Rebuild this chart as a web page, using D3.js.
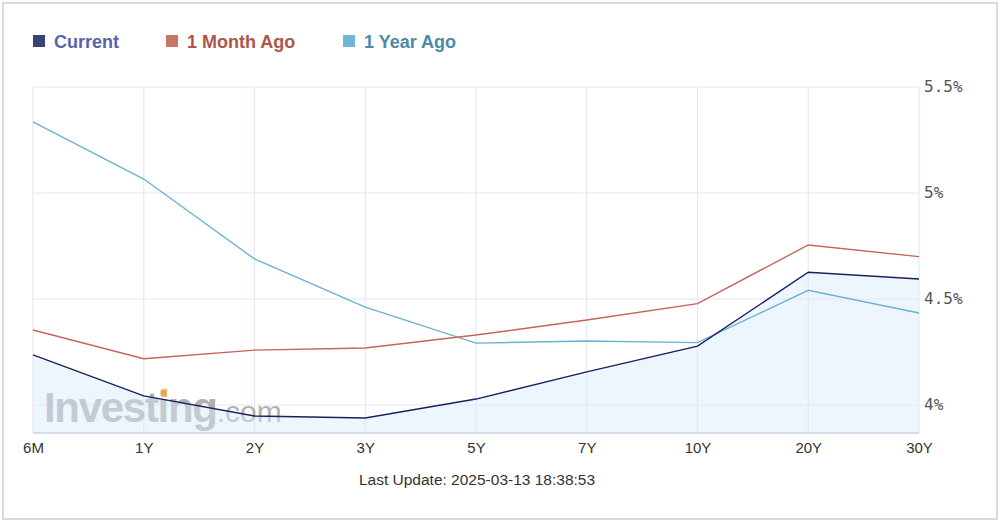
<!DOCTYPE html>
<html>
<head>
  <meta charset="utf-8">
  <title>Yield Curve</title>
  <style>
    body { margin: 0; background: #fff; }
    svg { display: block; }
  </style>
</head>
<body>
  <div class="area"></div>

  <script src="https://cdn.jsdelivr.net/npm/d3@7/dist/d3.min.js"></script>
  <script type="text/javascript">

  var w = 1000, h = 522;

  // tenors on the x axis
  var tenors = ['6M', '1Y', '2Y', '3Y', '5Y', '7Y', '10Y', '20Y', '30Y'];

  // yields in percent
  var current    = [4.236, 4.043, 3.948, 3.939, 4.028, 4.156, 4.278, 4.626, 4.594];
  var monthAgo   = [4.354, 4.218, 4.259, 4.269, 4.330, 4.401, 4.478, 4.755, 4.700];
  var yearAgo    = [5.335, 5.066, 4.689, 4.462, 4.292, 4.302, 4.294, 4.541, 4.434];

  var yTicks = [4, 4.5, 5, 5.5];
  var yTickLabels = ['4%', '4.5%', '5%', '5.5%'];

  var seriesNames  = ['Current', '1 Month Ago', '1 Year Ago'];
  var seriesData   = [current, monthAgo, yearAgo];
  var lineColors   = ['#1b1f5e', '#c2655b', '#6cb2d2'];
  var squareColors = ['#3b4275', '#c9766a', '#6fb6d7'];
  var textColors   = ['#5862ad', '#b05548', '#4b8ba6'];

  // plot box (note: "top" would clash with window.top)
  var pLeft = 33, pRight = 919, pTop = 87, pBottom = 433;

  var svg = d3.select('.area')
    .append('svg')
    .attr('width', w)
    .attr('height', h);

  // outer frame
  svg.append('rect')
    .attr('x', 3).attr('y', 3)
    .attr('width', w - 6).attr('height', h - 6)
    .attr('fill', '#fff')
    .attr('stroke', '#d0d0d0')
    .attr('stroke-width', 1.5);

  var x = d3.scalePoint().domain(tenors).range([pLeft, pRight]);
  var y = d3.scaleLinear().domain([4, 5.5]).range([405, pTop]);
  var yBottom = y.invert(pBottom);

  // grid
  svg.append('g').selectAll('line')
    .data(tenors).enter().append('line')
    .attr('x1', function(d){ return x(d); })
    .attr('x2', function(d){ return x(d); })
    .attr('y1', pTop).attr('y2', pBottom)
    .attr('stroke', '#e6e8f3').attr('stroke-width', 1.2);

  svg.append('g').selectAll('line')
    .data(yTicks).enter().append('line')
    .attr('x1', pLeft).attr('x2', pRight)
    .attr('y1', function(d){ return y(d); })
    .attr('y2', function(d){ return y(d); })
    .attr('stroke', '#e6e8f3').attr('stroke-width', 1.2);

  // watermark
  var wm = svg.append('text')
    .attr('x', 44).attr('y', 422)
    .attr('font-family', 'Liberation Sans, Arial, sans-serif')
    .attr('fill', '#a4a4a4')
    .attr('opacity', 0.85);
  wm.append('tspan').attr('font-size', 42).attr('font-weight', 'bold')
    .attr('letter-spacing', -1.3).text('Investing');
  wm.append('tspan').attr('font-size', 30).text('.com');
  svg.append('rect')
    .attr('x', 161).attr('y', 389).attr('width', 6).attr('height', 8)
    .attr('fill', '#f0a830').attr('opacity', 0.8);

  // area under current
  var area = d3.area()
    .x(function(d, i){ return x(tenors[i]); })
    .y0(y(yBottom))
    .y1(function(d){ return y(d); });

  svg.append('path')
    .datum(current)
    .attr('d', area)
    .attr('fill', '#d6eafb')
    .attr('opacity', 0.45);

  var line = d3.line()
    .x(function(d, i){ return x(tenors[i]); })
    .y(function(d){ return y(d); });

  // draw older series first so current sits on top
  [2, 1, 0].forEach(function(k){
    svg.append('path')
      .datum(seriesData[k])
      .attr('d', line)
      .attr('fill', 'none')
      .attr('stroke', lineColors[k])
      .attr('stroke-width', 1.4);
  });

  // x axis line
  svg.append('line')
    .attr('x1', pLeft).attr('x2', pRight)
    .attr('y1', pBottom).attr('y2', pBottom)
    .attr('stroke', '#cbd4e6').attr('stroke-width', 1.5);

  // x labels
  var xAxis = d3.axisBottom(x).tickSize(0).tickPadding(0);
  var gx = svg.append('g')
    .attr('transform', 'translate(0,' + 442 + ')')
    .call(xAxis);
  gx.select('.domain').remove();
  gx.selectAll('text')
    .attr('dy', '0.71em')
    .attr('font-family', 'Liberation Sans, Arial, sans-serif')
    .attr('font-size', 15)
    .attr('fill', '#333');

  // y labels on the right
  var yAxis = d3.axisRight(y).tickValues(yTicks)
    .tickFormat(function(d, i){ return yTickLabels[i]; })
    .tickSize(0).tickPadding(5);
  var gy = svg.append('g')
    .attr('transform', 'translate(' + pRight + ',0)')
    .call(yAxis);
  gy.select('.domain').remove();
  gy.selectAll('text')
    .attr('dy', '0.3em')
    .attr('font-family', 'DejaVu Sans Mono, monospace')
    .attr('font-size', 16)
    .attr('fill', '#555');

  // legend
  var legendX = [33, 166, 343];
  var lg = svg.append('g').selectAll('g')
    .data(seriesNames).enter().append('g')
    .attr('transform', function(d, i){ return 'translate(' + legendX[i] + ',35)'; });
  lg.append('rect')
    .attr('width', 12).attr('height', 12)
    .attr('fill', function(d, i){ return squareColors[i]; });
  lg.append('text')
    .attr('x', 21).attr('y', 12.5)
    .attr('font-family', 'Liberation Sans, Arial, sans-serif')
    .attr('font-size', 18)
    .attr('font-weight', 'bold')
    .attr('fill', function(d, i){ return textColors[i]; })
    .text(function(d){ return d; });

  // footer
  svg.append('text')
    .attr('x', 477).attr('y', 485)
    .attr('text-anchor', 'middle')
    .attr('font-family', 'Liberation Sans, Arial, sans-serif')
    .attr('font-size', 15.5)
    .attr('fill', '#333')
    .text('Last Update: 2025-03-13 18:38:53');

  </script>
</body>
</html>
